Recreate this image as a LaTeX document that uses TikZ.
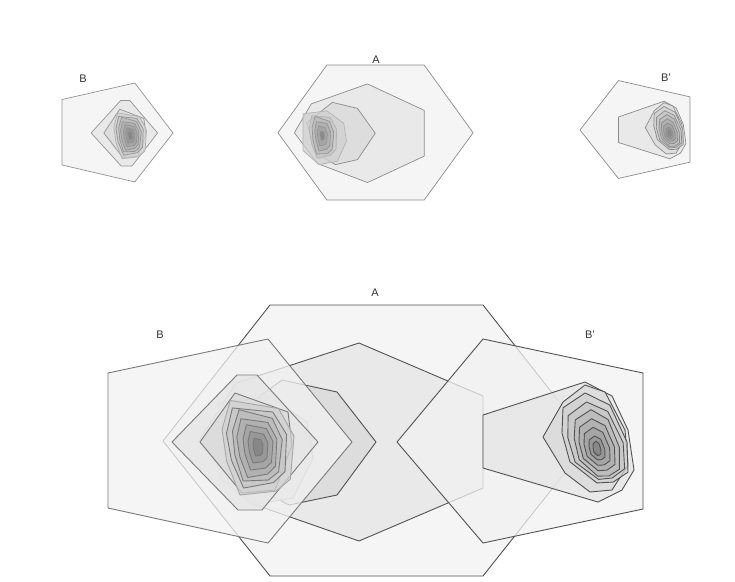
\documentclass[tikz,border=0pt]{standalone}
\usepackage{fontspec}
\setmainfont{Liberation Sans}
\definecolor{g1}{HTML}{F2F2F2}
\definecolor{g2}{HTML}{E5E5E5}
\definecolor{g3}{HTML}{D9D9D9}
\definecolor{g4}{HTML}{D0D0D0}
\definecolor{g5}{HTML}{C6C6C6}
\definecolor{g6}{HTML}{BABABA}
\definecolor{g7}{HTML}{AEAEAE}
\definecolor{g8}{HTML}{A2A2A2}
\definecolor{g9}{HTML}{949494}
\definecolor{g10}{HTML}{828282}
\tikzset{
  cont/.style={line width=0.9pt, line join=round, fill opacity=0.75},
  lineD/.style={draw=black!68},
  lineM/.style={draw=black!52},
  lineL/.style={draw=black!35},
  lab/.style={font=\fontsize{11}{13}\selectfont, text=black!80, inner sep=0pt},
}
% irregular blob shapes (normalised)
\newcommand\blobB[5]{\draw[cont,#1,shift={(#2)},xscale=#3,yscale=#4,rotate=#5]
  (-0.77,-0.97) -- (0.57,-0.8) -- (1,-0.23) -- (0.9,0.67) -- (0.5,0.92) -- (-0.5,1) -- (-0.87,0.3) -- (-1,-0.36) -- cycle;}
\newcommand\blobP[5]{\draw[cont,#1,shift={(#2)},xscale=#3,yscale=#4,rotate=#5]
  (-0.97,-0.76) -- (-0.3,-1.09) -- (0.45,-0.82) -- (0.97,0) -- (1,0.67) -- (0.55,0.89) -- (0.06,0.91) -- (-0.76,0.44) -- (-1,-0.2) -- cycle;}
% group A (big coordinates)
\newcommand\groupA{%
  \draw[cont,lineD,fill=g1] (270,305) -- (483,305) -- (590,441) -- (483,576) -- (270,576) -- (163,441) -- cycle;
  \draw[cont,lineD,fill=g2] (199,441) -- (236,383) -- (359,343) -- (483,396) -- (483,488) -- (359,541) -- (250,503) -- cycle;
  \draw[cont,lineD,fill=g3] (226,421) -- (282,380) -- (337,392) -- (376,442) -- (337,495) -- (289,505) -- (247,483) -- cycle;
  \draw[cont,lineL,fill=g4] (218,403) -- (270,397) -- (307,422) -- (313,458) -- (293,498) -- (253,505) -- (218,477) -- cycle;
  \blobB{lineL,fill=g5}{262,447}{30}{44}{4}
  \blobB{lineM,fill=g6}{261,447}{24}{38}{-4}
  \blobB{lineM,fill=g7}{261,447}{17}{30}{2}
  \blobB{lineM,fill=g8}{260,447}{11}{20}{0}
  \blobB{lineM,fill=g10}{260,447}{5}{9}{0}
}
% group B
\newcommand\groupB{%
  \draw[cont,lineM,fill=g1] (108,373) -- (268,339) -- (352,442) -- (268,543) -- (108,508) -- cycle;
  \draw[cont,lineM,fill=g2] (172,442) -- (237,375) -- (257,375) -- (318,442) -- (262,510) -- (238,510) -- cycle;
  \draw[cont,lineM,fill=g3] (200,442) -- (235,393) -- (288,412) -- (292,445) -- (275,490) -- (242,493) -- cycle;
  \blobB{lineL,fill=g4}{258,447}{36}{48}{0}
  \blobB{lineM,fill=g5}{257,446}{30}{41}{3}
  \blobB{lineM,fill=g6}{257,446}{25}{36}{-3}
  \blobB{lineM,fill=g7}{257,447}{20}{30}{2}
  \blobB{lineM,fill=g8}{258,447}{15}{23}{0}
  \blobB{lineM,fill=g9}{258,447}{10}{16}{0}
  \blobB{lineM,fill=g10}{258,447}{5}{9}{0}
}
% group B'
\newcommand\groupP{%
  \draw[cont,lineD,fill=g1] (483,339) -- (643,373) -- (643,509) -- (483,543) -- (397,442) -- cycle;
  \draw[cont,lineD,fill=g2] (483,415) -- (585,382) -- (612,396) -- (628,430) -- (634,470) -- (622,490) -- (598,502) -- (483,468) -- cycle;
  \draw[cont,lineD,fill=g3] (543,437) -- (563,402) -- (585,385) -- (605,392) -- (625,430) -- (628,465) -- (612,490) -- (590,492) -- (565,473) -- cycle;
  \blobP{lineD,fill=g4}{595,442}{33}{45}{0}
  \blobP{lineD,fill=g5}{596,444}{28}{39}{2}
  \blobP{lineD,fill=g6}{597,446}{23}{33}{-2}
  \blobP{lineD,fill=g7}{597,447}{18}{26}{0}
  \blobP{lineD,fill=g8}{597,448}{13}{19}{0}
  \blobP{lineD,fill=g9}{597,449}{8}{12}{0}
  \blobP{lineD,fill=g10}{597,449}{4}{7}{0}
}
\begin{document}
\begin{tikzpicture}[x=1pt,y=-1pt]
\useasboundingbox (0,0) rectangle (735,581);
\fill[white] (0,0) rectangle (735,581);
% ---------- top row ----------
\begin{scope}[line width=0.7pt,lineD/.style={draw=black!45},lineM/.style={draw=black!42},lineL/.style={draw=black!30},
  cont/.style={line width=0.7pt, line join=round, fill opacity=0.75}]
  \begin{scope}[shift={(62,132)},xscale=0.455,yscale=0.485,shift={(-108,-440)}]
    \groupB
  \end{scope}
  \begin{scope}[shift={(375.5,132.5)},xscale=0.457,yscale=0.498,shift={(-376.5,-440.5)}]
    \groupA
  \end{scope}
  \begin{scope}[shift={(580,130)},xscale=0.447,yscale=0.48,shift={(-397,-442)}]
    \groupP
  \end{scope}
\end{scope}
\node[lab] (tB) at (83,79) {B};
\node[lab] (tA) at (376,60) {A};
\node[lab] (tBp) at (666,78) {B'};
% ---------- bottom overlay ----------
\groupA
\groupB
\groupP
\node[lab] (bA) at (375,293) {A};
\node[lab] (bB) at (160,335) {B};
\node[lab] (bBp) at (590,335) {B'};
\end{tikzpicture}
\end{document}
